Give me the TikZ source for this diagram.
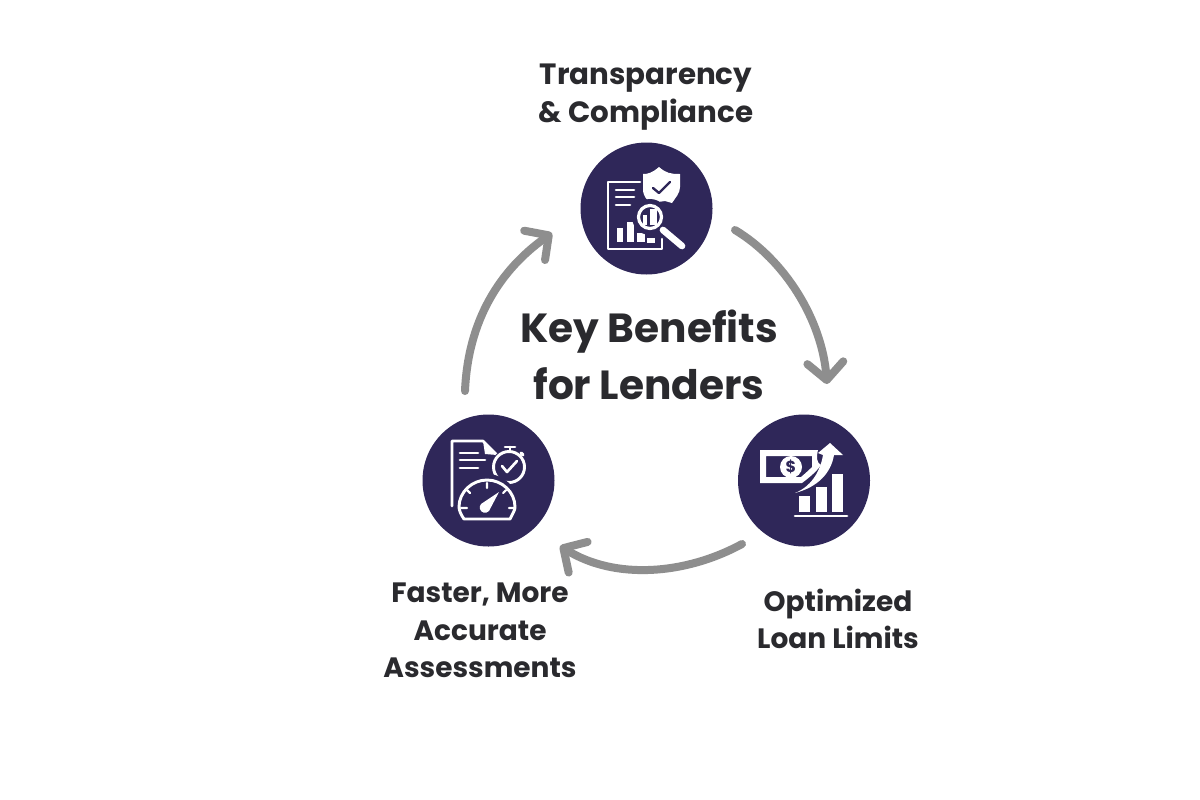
\documentclass[tikz,border=0pt]{standalone}
\usepackage{fontspec}
\setmainfont{Poppins}
\usetikzlibrary{arrows.meta}
\definecolor{navy}{HTML}{2F2759}
\definecolor{arrowgray}{HTML}{8E8E8E}
\definecolor{ink}{HTML}{2A2A2E}
\tikzset{
  badge/.style={circle,fill=navy,minimum size=99pt,inner sep=0pt},
  captext/.style={font=\fontsize{21}{28.2}\selectfont\bfseries,text=ink,align=center},
  titletext/.style={font=\fontsize{30.5}{42.5}\selectfont\bfseries,text=ink,align=center},
  flow/.style={draw=arrowgray,line width=6pt,line cap=round,line join=round,
    -{Straight Barb[length=13pt,width=27pt,line width=6pt,round]}},
  wl/.style={draw=white,line width=2pt,line cap=round,line join=round,fill=none},
  wf/.style={fill=white,draw=none},
}
\begin{document}
\begin{tikzpicture}[x=0.75pt,y=-0.75pt]
\useasboundingbox (0,0) rectangle (1200,800);
\fill[white] (0,0) rectangle (1200,800);
\node[badge] (top) at (646.5,208.5) {};
\node[badge] (right) at (804,480.5) {};
\node[badge] (left) at (488.5,480.5) {};
\node[captext,font=\fontsize{22}{28.5}\selectfont\bfseries] (t1) at (646,97) {Transparency\\\& Compliance};
\node[captext] (t2) at (838,619) {Optimized\\Loan Limits};
\node[captext] (t3) at (480,630.5) {Faster, More\\Accurate\\Assessments};
\node[titletext] (center) at (649,355) {Key Benefits\\for Lenders};
\coordinate (a1) at (735,230); \coordinate (b1) at (827,384);
\coordinate (a2) at (742,544); \coordinate (b2) at (560,546);
\coordinate (a3) at (465,391); \coordinate (b3) at (552,233);
\draw[flow] (a1) .. controls (785,260) and (822,320) .. (b1);
\draw[flow] (a2) .. controls (685,575) and (615,580) .. (b2);
\draw[flow] (a3) .. controls (468,320) and (500,270) .. (b3);
% top icon
\begin{scope}[shift={(570,135)}]
\draw[wl] (70,47) -- (38,47) -- (38,114) -- (92,114) -- (92,104);
\foreach \y/\w in {55/64,62/64,70/60}{\draw[wl] (46,\y) -- (\w,\y);}
\fill[white] (47,93) rectangle (53,107);
\fill[white] (57,87) rectangle (64,107);
\fill[white] (67,98) rectangle (75,107);
\fill[white] (77,103) rectangle (85,108);
\fill[white] (89,32) .. controls (82,38) and (78,39) .. (73,39) -- (73,54) .. controls (73,62) and (78,66) .. (81,68) -- (95,66) -- (102,68) .. controls (106,62) and (110,58) .. (110,52) -- (110,39) .. controls (100,39) and (96,38) .. (89,32) -- cycle;
\draw[draw=navy,line width=1.8pt,line cap=round,line join=round] (83,53) -- (89,58) -- (100,47);
\fill[navy] (80,82) circle (18);
\draw[white,line width=2.4pt] (80,82) circle (11.5);
\draw[white,line width=5pt,line cap=round] (93,95) -- (112,111);
\fill[white] (73,80) rectangle (77,90);
\fill[white] (80,74) rectangle (87,90);
\end{scope}
% right icon
\begin{scope}[shift={(730,405)}]
\path[wf,even odd rule] (30,45) -- (88,45) .. controls (86,53) and (87,58) .. (91,60) .. controls (87,66) and (80,72) .. (72,78) -- (30,78) -- cycle
 (36,51) -- (36,72) -- (71,72) .. controls (77,67) and (80,64) .. (82,62) -- (82,51) -- cycle;
\fill[white] (61,62) circle (11);
\node[text=navy,font=\fontsize{12}{12}\selectfont\bfseries,inner sep=0pt] (dollar) at (61,62) {\$};
\fill[white] (65,88) .. controls (80,82) and (90,68) .. (93,50) -- (88,48) -- (100,38) -- (113,50) -- (104,50) .. controls (101,68) and (88,82) .. (65,88) -- cycle;
\fill[white] (69,91) rectangle (80,107);
\fill[white] (86,82) rectangle (97,107);
\fill[white] (102,69) rectangle (113,107);
\draw[white,line width=2pt,line cap=round] (65,111) -- (117,111);
\end{scope}
% left icon
\begin{scope}[shift={(415,405)}]
\draw[wl] (37,101) -- (37,36) -- (68,36) -- (82,50);
\fill[white] (68,36) -- (82,50) -- (70,49) -- cycle;
\foreach \y/\w in {48/63,55/70,63/63}{\draw[wl] (45,\y) -- (\w,\y);}
\fill[navy] (94,62) circle (18);
\draw[white,line width=2.2pt] (94,62) circle (15.5);
\draw[wl] (87,61) -- (92,67) -- (102,56);
\draw[white,line width=2pt,line cap=round] (95,42) -- (95,46) (90,42) -- (100,42);
\draw[white,line width=2.5pt,line cap=round] (106,48) -- (108,50);
\fill[navy] (72,100) circle (31);
\draw[white,line width=2.2pt,line cap=round,line join=round] (49,114) -- (95,114) .. controls (98,108) and (100,105) .. (100,102) .. controls (100,87) and (87,75) .. (72,75) .. controls (57,75) and (44,87) .. (44,102) .. controls (44,105) and (46,110) .. (49,114) -- cycle;
\draw[wl,line width=1.6pt] (72,78) -- (72,83) (52,85) -- (55,88) (91,85) -- (88,88) (46,103) -- (52,103) (94,103) -- (99,103);
\fill[white] (66,99) -- (84,87) -- (74,106) .. controls (71,109) and (66,108) .. (65,104) .. controls (64.5,102) and (65,100) .. (66,99) -- cycle;
\end{scope}
\end{tikzpicture}
\end{document}
